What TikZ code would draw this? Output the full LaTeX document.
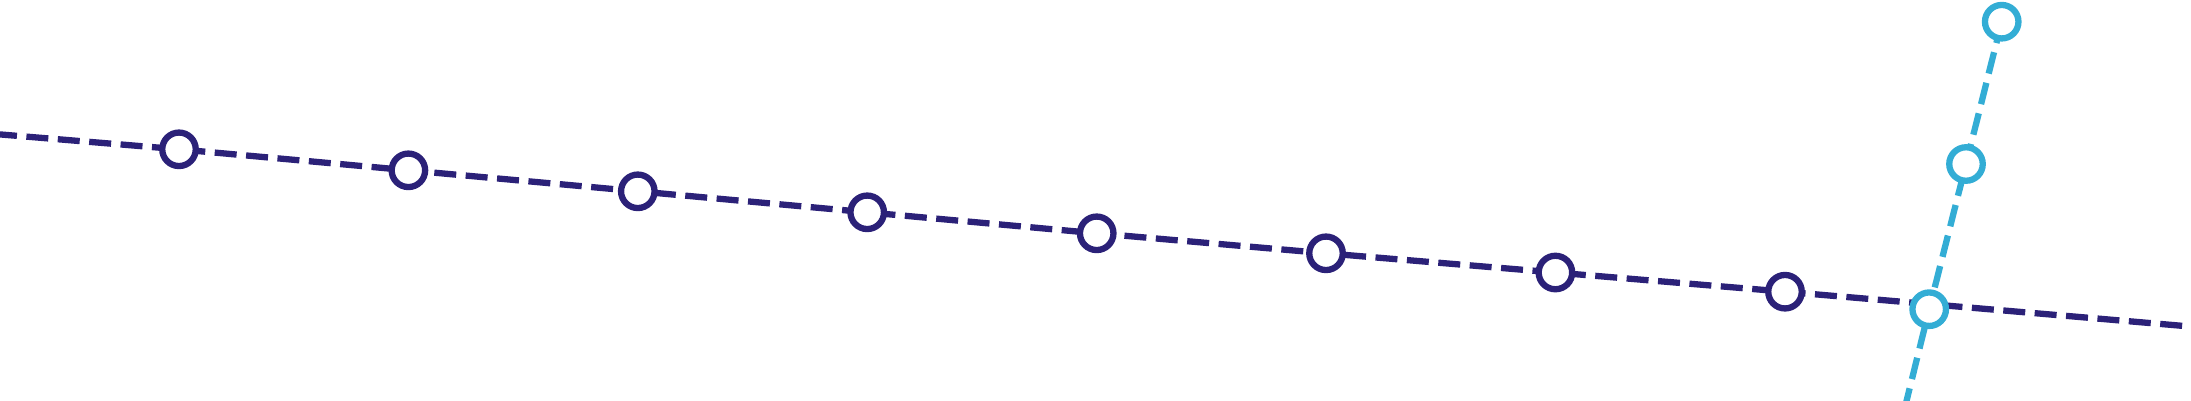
\documentclass[tikz,border=0pt]{standalone}
\definecolor{navy}{RGB}{43,33,120}
\definecolor{sky}{RGB}{51,173,213}
\begin{document}
\begin{tikzpicture}[x=1pt,y=-1pt,
  route/.style={line width=6.3pt, dash pattern=on 22pt off 9.5pt},
  stop/.style={circle, draw, fill=white, line width=6.3pt, minimum size=33.5pt, inner sep=0pt}]
\useasboundingbox (0,0) rectangle (2191,400);
% positions
\coordinate (L) at (-5,134);
\coordinate (R) at (2196,327);
\coordinate (p1) at (179,149.3);
\coordinate (p2) at (408.4,170.3);
\coordinate (p3) at (637.8,191.3);
\coordinate (p4) at (867.2,212.3);
\coordinate (p5) at (1096.7,233.3);
\coordinate (p6) at (1326,253.3);
\coordinate (p7) at (1555.4,272.5);
\coordinate (p8) at (1785,291.7);
\coordinate (q1) at (1929.2,309.2);
\coordinate (q2) at (1966,164);
\coordinate (q3) at (2001.7,21.7);
\coordinate (B) at (1905.5,405);
% dark route
\draw[route, navy] (L) -- (p1) -- (p2) -- (p3) -- (p4) -- (p5) -- (p6) -- (p7) -- (p8) -- (R);
\foreach \i in {1,...,8} \node[stop, draw=navy] (d\i) at (p\i) {};
% light route
\draw[route, sky] (q3) -- (q2) -- (q1) -- (B);
\foreach \i in {1,2,3} \node[stop, draw=sky] (s\i) at (q\i) {};
\end{tikzpicture}
\end{document}
